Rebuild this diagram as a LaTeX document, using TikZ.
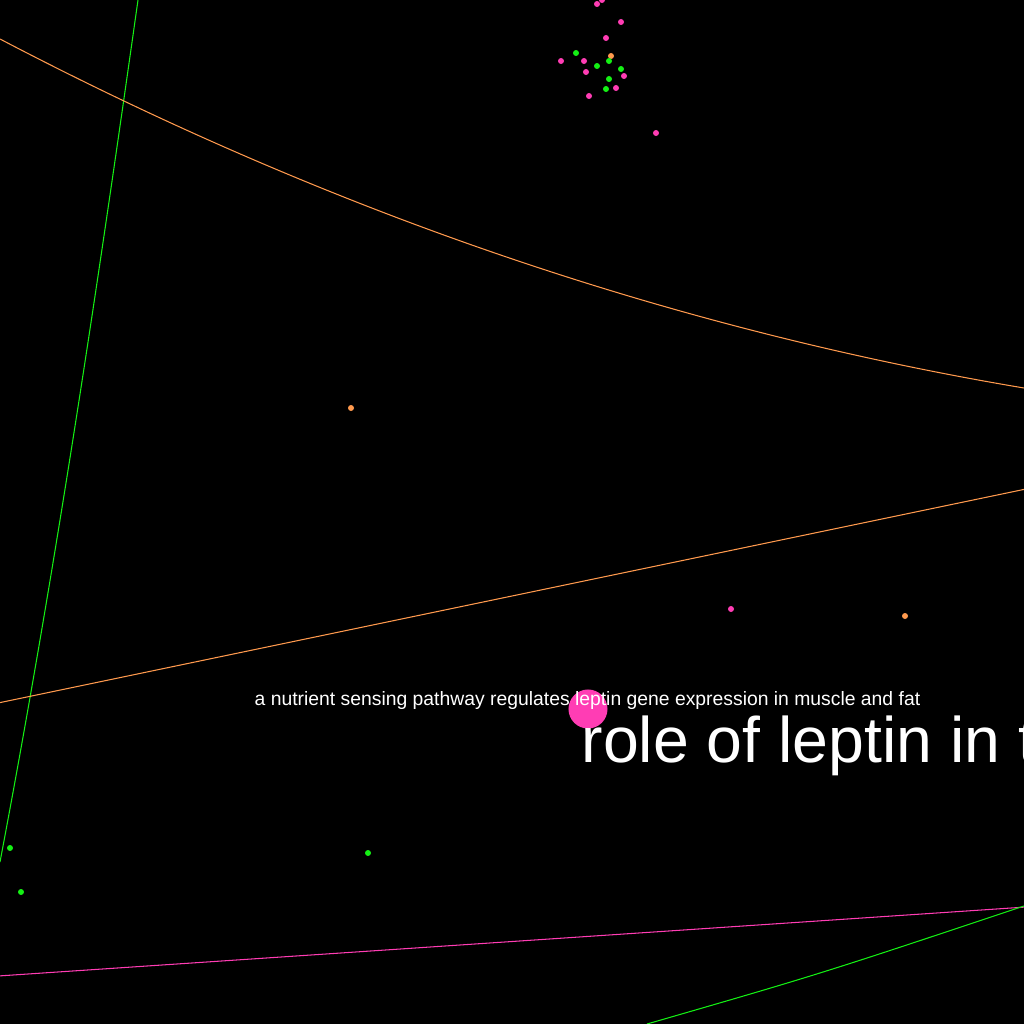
\documentclass[tikz,border=0pt]{standalone}
\usepackage{fontspec}
\setmainfont{Liberation Sans}
\usepackage{xcolor}
\usetikzlibrary{shapes.geometric, positioning}
\definecolor{lepPink}{HTML}{FF3DB4}
\definecolor{lepGreen}{HTML}{14F014}
\definecolor{lepOrange}{HTML}{FF9A4E}
\definecolor{lepWhite}{HTML}{FFFFFF}

\begin{document}
\begin{tikzpicture}[
  x=0.01cm, y=-0.01cm,
  dot/.style={circle, inner sep=0pt, minimum size=0.06cm},
  pinkdot/.style={dot, fill=lepPink},
  greendot/.style={dot, fill=lepGreen},
  orangedot/.style={dot, fill=lepOrange},
  hub/.style={circle, inner sep=0pt, minimum size=0.39cm, fill=lepPink},
  edge/.style={line width=0.3pt},
  caption/.style={inner sep=0pt, anchor=base west, text=lepWhite, font=\fontsize{5.5pt}{6pt}\selectfont},
  headline/.style={inner sep=0pt, anchor=base west, text=lepWhite, font=\fontsize{18.3pt}{20pt}\selectfont},
]

% Background
\fill[black] (0,0) rectangle (1024,1024);
\clip (0,0) rectangle (1024,1024);

% === EDGES ===
\draw[edge, lepGreen] (138,0) .. controls (97,290) and (55,572) .. (0,862);
\draw[edge, lepOrange] (0,39) .. controls (340,217) and (684,331) .. (1024,388);
\draw[edge, lepOrange] (-2,703) -- (1026,489);
\draw[edge, lepPink] (-2,976) -- (1026,907);
\draw[edge, lepGreen] (647,1024) .. controls (820,974) .. (1024,906);

% === CLUSTER (TOP) ===
\node[pinkdot] (p1) at (597,4) {};
\node[pinkdot] (p2) at (602,0) {};
\node[pinkdot] (p3) at (621,22) {};
\node[pinkdot] (p4) at (606,38) {};
\node[greendot] (g1) at (576,53) {};
\node[orangedot] (o1) at (611,56) {};
\node[pinkdot] (p5) at (561,61) {};
\node[pinkdot] (p6) at (584,61) {};
\node[greendot] (g2) at (609,61) {};
\node[greendot] (g3) at (597,66) {};
\node[greendot] (g4) at (621,69) {};
\node[pinkdot] (p7) at (586,72) {};
\node[pinkdot] (p8) at (624,76) {};
\node[greendot] (g5) at (609,79) {};
\node[pinkdot] (p9) at (616,88) {};
\node[greendot] (g6) at (606,89) {};
\node[pinkdot] (p10) at (589,96) {};
\node[pinkdot] (p11) at (656,133) {};

% === SCATTERED DOTS ===
\node[orangedot] (o2) at (351,408) {};
\node[pinkdot] (p12) at (731,609) {};
\node[orangedot] (o3) at (905,616) {};
\node[greendot] (g7) at (10,848) {};
\node[greendot] (g8) at (368,853) {};
\node[greendot] (g9) at (21,892) {};

% === LEPTIN HUB ===
\node[hub] (leptin) at (588,709) {};
\node[caption] (pathway) at (254,705) {a nutrient sensing pathway regulates leptin gene expression in muscle and fat};
\node[headline] (title) at (581,762) {role of leptin in the};

\end{tikzpicture}
\end{document}
